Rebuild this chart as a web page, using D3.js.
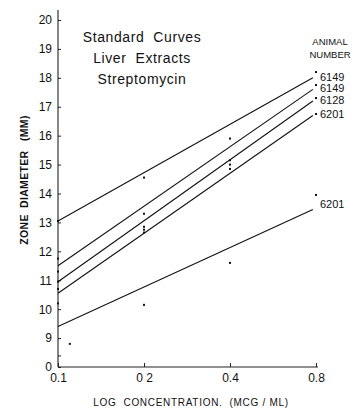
<!DOCTYPE html>
<html><head><meta charset="utf-8">
<script src="https://cdn.jsdelivr.net/npm/d3@7"></script>
<style>body{margin:0;background:#fff}svg{display:block}text{font-family:"Liberation Sans",Arial,sans-serif;fill:#111}</style>
</head><body><svg id="c" width="355" height="410"></svg>
<script>
// ---- data ----
const xTicks = [0.1, 0.2, 0.4, 0.8];
const xTickLabels = ["0.1", "0 2", "0.4", "0.8"];
const yTicks = [8, 8.4, 9, 10, 11, 12, 13, 14, 15, 16, 17, 18, 19, 20];
const yTickLabels = ["0", "", "9", "10", "11", "12", "13", "14", "15", "16", "17", "18", "19", "20"];
const animals = ["6149", "6149", "6128", "6201", "6201"];
const lineStart = [13.05, 11.5, 10.95, 10.55, 9.4];
const lineEnd = [18.0, 17.6, 17.2, 16.7, 13.45];
const lineX = [0.1, 0.78];
const pointX = [0.1, 0.1, 0.1, 0.1, 0.1, 0.1, 0.11, 0.2, 0.2, 0.2, 0.2, 0.2, 0.2, 0.4, 0.4, 0.4, 0.4, 0.4, 0.8, 0.8, 0.8, 0.8, 0.8];
const pointY = [13.05, 11.75, 11.3, 10.95, 10.7, 10.2, 8.8, 14.55, 13.3, 12.85, 12.75, 12.65, 10.15, 15.9, 15.15, 15.0, 14.85, 11.6, 18.2, 17.75, 17.3, 16.75, 13.95];
const titleLines = ["Standard  Curves", "Liver  Extracts", "Streptomycin"];

// ---- chart ----
const svg = d3.select("#c");
const x = d3.scaleLog().domain([0.1, 0.8]).range([58, 316]);
const y = d3.scaleLinear().domain([8, 20]).range([367, 20]);

// axes
const yAxis = d3.axisLeft(y).tickValues(yTicks).tickSize(-3).tickPadding(6)
  .tickFormat((d, i) => yTickLabels[i]);
const gy = svg.append("g").attr("transform", "translate(58,0)").call(yAxis);
gy.select(".domain").attr("d", `M0,${y(20) - 10}V${y(8)}`).attr("stroke", "#222").attr("stroke-width", 1.1);
gy.selectAll(".tick line").attr("stroke", "#222");
gy.selectAll(".tick text").attr("font-size", 12).attr("fill", "#111");

const xAxis = d3.axisBottom(x).tickValues(xTicks).tickSize(-4).tickPadding(6)
  .tickFormat((d, i) => xTickLabels[i]);
const gx = svg.append("g").attr("transform", `translate(0,${y(8)})`).call(xAxis);
gx.select(".domain").attr("d", `M${x(0.1)},0H${x(0.8) + 2}`).attr("stroke", "#222").attr("stroke-width", 1.1);
gx.selectAll(".tick line").attr("stroke", "#222");
gx.selectAll(".tick text").attr("font-size", 12).attr("fill", "#111");

// lines
const line = d3.line().x(d => x(d[0])).y(d => y(d[1]));
svg.append("g").selectAll("path").data(lineStart).join("path")
  .attr("d", (d, i) => line([[lineX[0], d], [lineX[1], lineEnd[i]]]))
  .attr("fill", "none").attr("stroke", "#111").attr("stroke-width", 1.1);

// points
svg.append("g").selectAll("rect").data(pointY).join("rect")
  .attr("x", (d, i) => x(pointX[i]) - 1).attr("y", d => y(d) - 1)
  .attr("width", 2).attr("height", 2).attr("fill", "#111");

// labels
svg.append("g").selectAll("text").data(animals).join("text")
  .attr("x", 320)
  .attr("y", (d, i) => y(lineEnd[i]) + (i < 4 ? 3 : -1))
  .attr("font-size", 11).text(d => d);
svg.append("text").attr("x", 330).attr("y", 45).attr("text-anchor", "middle").attr("font-size", 9.5).text("ANIMAL");
svg.append("text").attr("x", 330).attr("y", 58).attr("text-anchor", "middle").attr("font-size", 9.5).text("NUMBER");

svg.append("g").selectAll("text").data(titleLines).join("text")
  .attr("x", 142).attr("y", (d, i) => 42 + i * 21).attr("text-anchor", "middle")
  .attr("font-size", 14).style("white-space", "pre").attr("letter-spacing", 0.6).text(d => d);

svg.append("text").attr("x", 191).attr("y", 406).attr("text-anchor", "middle")
  .attr("font-size", 10).attr("letter-spacing", 0.7).style("white-space", "pre")
  .text("LOG  CONCENTRATION.  (MCG / ML)");

svg.append("text").attr("transform", "translate(28,180) rotate(-90)").attr("text-anchor", "middle")
  .attr("font-size", 10.5).attr("font-weight", "bold").attr("letter-spacing", 0.3).style("white-space", "pre")
  .text("ZONE  DIAMETER   (MM)");
</script></body></html>
